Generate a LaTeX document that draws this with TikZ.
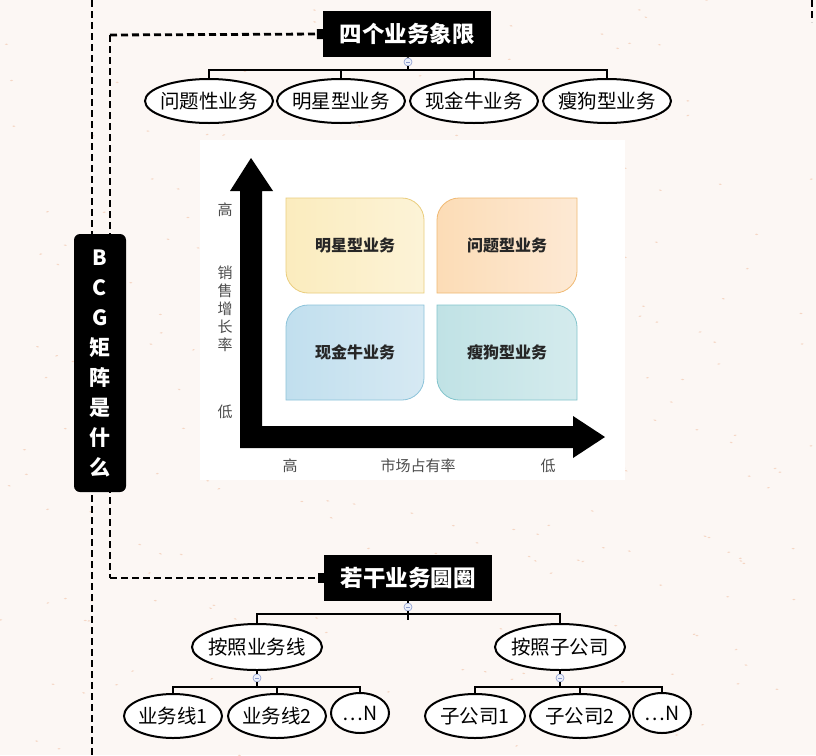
\documentclass[tikz,border=0pt]{standalone}
\usepackage{fontspec}
\setmainfont{Noto Sans CJK SC}
\usepackage{xcolor}
\usetikzlibrary{shapes.geometric, arrows.meta, positioning, calc}
\definecolor{paper}{RGB}{252,247,244}
\definecolor{speck}{RGB}{245,214,196}
\definecolor{foldblue}{RGB}{140,155,205}
\definecolor{foldfill}{RGB}{238,241,250}
\definecolor{ylwA}{RGB}{251,236,190}
\definecolor{ylwB}{RGB}{252,243,215}
\definecolor{ylwD}{RGB}{234,205,125}
\definecolor{orgA}{RGB}{252,220,182}
\definecolor{orgB}{RGB}{253,233,212}
\definecolor{orgD}{RGB}{240,185,115}
\definecolor{bluA}{RGB}{193,223,238}
\definecolor{bluB}{RGB}{214,233,243}
\definecolor{bluD}{RGB}{140,195,218}
\definecolor{tealA}{RGB}{192,226,229}
\definecolor{tealB}{RGB}{212,235,237}
\definecolor{tealD}{RGB}{130,196,204}

\begin{document}
\begin{tikzpicture}[
    x=1pt, y=-1pt,
    topic/.style={rectangle, fill=black, text=white, font=\fontsize{22.5}{22.5}\selectfont\bfseries, minimum width=168, minimum height=46, inner sep=0},
    leaf/.style={ellipse, draw=black, line width=2pt, fill=white, font=\fontsize{19.5}{19.5}\selectfont, inner xsep=-5pt, inner ysep=0, minimum height=44},
    fold/.style={circle, draw=foldblue, fill=foldfill, line width=0.6pt, minimum size=8, inner sep=0,
        path picture={\draw[foldblue, line width=0.6pt] ([xshift=-2pt]path picture bounding box.center) -- ([xshift=2pt]path picture bounding box.center);}},
    edge/.style={line width=2pt, black},
    dashline/.style={line width=2.8pt, black, dash pattern=on 7pt off 4pt},
    bcgbox/.style={rectangle, rounded corners=6, fill=black, text=white, minimum width=52, minimum height=258, align=center, font=\fontsize{21}{30}\selectfont\bfseries, inner sep=0},
    quadlabel/.style={font=\fontsize{16}{16}\selectfont\bfseries, text=black!85},
    axislabel/.style={font=\fontsize{15}{18}\selectfont, text=black!70}
]
\useasboundingbox (0,0) rectangle (816,755);
\fill[paper] (0,0) rectangle (816,755);

% paper speckles
\pgfmathsetseed{12}
\foreach \k in {1,...,600} \fill[speck, rotate around={70+40*rnd:(816*rnd,755*rnd)}] (816*rnd,755*rnd) ellipse (0.7 and 1.6);

% outer dashed frame lines
\coordinate (up1) at (92,0);
\coordinate (down1) at (92,755);
\coordinate (up2) at (812,0);
\coordinate (down2) at (812,22);
\draw[dashline] (up1) -- (down1);
\draw[dashline] (up2) -- (down2);

% Topics
\node[topic] (quad) at (407,34) {四个业务象限};
\node[topic] (circ) at (408,578) {若干业务圆圈};

% dashed connector from the BCG box
\coordinate (j1) at (110,35);
\coordinate (j2) at (110,578);
\draw[dashline] (j1) -- (j2);
\draw[dashline, -{Square[length=6pt,width=10pt]}] (j1) -- (quad.west);
\draw[dashline, -{Square[length=6pt,width=10pt]}] (j2) -- (circ.west);

\node[bcgbox] (bcg) at (100,363) {B\\C\\G\\矩\\阵\\是\\什\\么};

% Four quadrants tree
\node[fold] (fq) at (408,62) {};
\coordinate (barq) at (408,70);
\node[leaf, minimum width=128] (q1) at (209,101) {问题性业务};
\node[leaf, minimum width=128] (q2) at (341,101) {明星型业务};
\node[leaf, minimum width=128] (q3) at (474,101) {现金牛业务};
\node[leaf, minimum width=128] (q4) at (607,101) {瘦狗型业务};
\draw[edge] (quad) -- (fq);
\draw[edge] (fq) -- (barq);
\foreach \n in {q1,q2,q3,q4} \draw[edge] (barq) -| (\n);

% BCG matrix picture
\fill[white] (200,140) rectangle (625,480);
\fill[black] (240,448) -- (240,191) -- (230,191) -- (251,158) -- (273,191) -- (262,191) -- (262,426)
    -- (573,426) -- (573,416) -- (605,437) -- (573,458) -- (573,448) -- cycle;

\draw[ylwD, line width=0.8pt, left color=ylwA, right color=ylwB]
    (286,198) -- (402,198) .. controls (414,198) and (424,208) .. (424,220) -- (424,293)
    -- (308,293) .. controls (296,293) and (286,283) .. (286,271) -- cycle;
\draw[orgD, line width=0.8pt, left color=orgA, right color=orgB]
    (459,198) -- (577,198) -- (577,271) .. controls (577,283) and (567,293) .. (555,293)
    -- (437,293) -- (437,220) .. controls (437,208) and (447,198) .. (459,198) -- cycle;
\draw[bluD, line width=0.8pt, left color=bluA, right color=bluB]
    (308,305) -- (424,305) -- (424,378) .. controls (424,390) and (414,400) .. (402,400)
    -- (286,400) -- (286,327) .. controls (286,315) and (296,305) .. (308,305) -- cycle;
\draw[tealD, line width=0.8pt, left color=tealA, right color=tealB]
    (437,305) -- (555,305) .. controls (567,305) and (577,315) .. (577,327) -- (577,400)
    -- (459,400) .. controls (447,400) and (437,390) .. (437,378) -- cycle;

\node[quadlabel] (star) at (355,245) {明星型业务};
\node[quadlabel] (question) at (507,245) {问题型业务};
\node[quadlabel] (cow) at (355,352) {现金牛业务};
\node[quadlabel] (dog) at (507,352) {瘦狗型业务};

\node[axislabel] (yhigh) at (225,210) {高};
\node[axislabel, align=center] (yname) at (225,309) {销\\售\\增\\长\\率};
\node[axislabel] (ylow) at (225,412) {低};
\node[axislabel] (xhigh) at (290,466) {高};
\node[axislabel] (xname) at (418,466) {市场占有率};
\node[axislabel] (xlow) at (548,466) {低};

% Business circles tree
\node[fold] (fc) at (408,607) {};
\coordinate (barc) at (408,614);
\coordinate (stubc) at (408,620);
\node[leaf, minimum width=130, minimum height=46] (byline) at (257,647) {按照业务线};
\node[leaf, minimum width=130, minimum height=46] (bysub) at (560,647) {按照子公司};
\draw[edge] (circ) -- (fc);
\draw[edge] (fc) -- (stubc);
\draw[edge] (barc) -| (byline);
\draw[edge] (barc) -| (bysub);

\node[fold] (fl) at (257,678) {};
\node[fold] (fs) at (560,678) {};
\coordinate (barl) at (257,687);
\coordinate (bars) at (560,687);
\node[leaf, minimum width=98] (l1) at (173,716) {业务线1};
\node[leaf, minimum width=98] (l2) at (277,716) {业务线2};
\node[leaf, minimum width=58, minimum height=40] (l3) at (360,713) {…N};
\node[leaf, minimum width=100] (s1) at (475,716) {子公司1};
\node[leaf, minimum width=100] (s2) at (580,716) {子公司2};
\node[leaf, minimum width=58, minimum height=40] (s3) at (662,713) {…N};
\draw[edge] (byline) -- (fl);
\draw[edge] (fl) -- (barl);
\draw[edge] (bysub) -- (fs);
\draw[edge] (fs) -- (bars);
\foreach \n in {l1,l2,l3} \draw[edge] (barl) -| (\n);
\foreach \n in {s1,s2,s3} \draw[edge] (bars) -| (\n);
\end{tikzpicture}
\end{document}
